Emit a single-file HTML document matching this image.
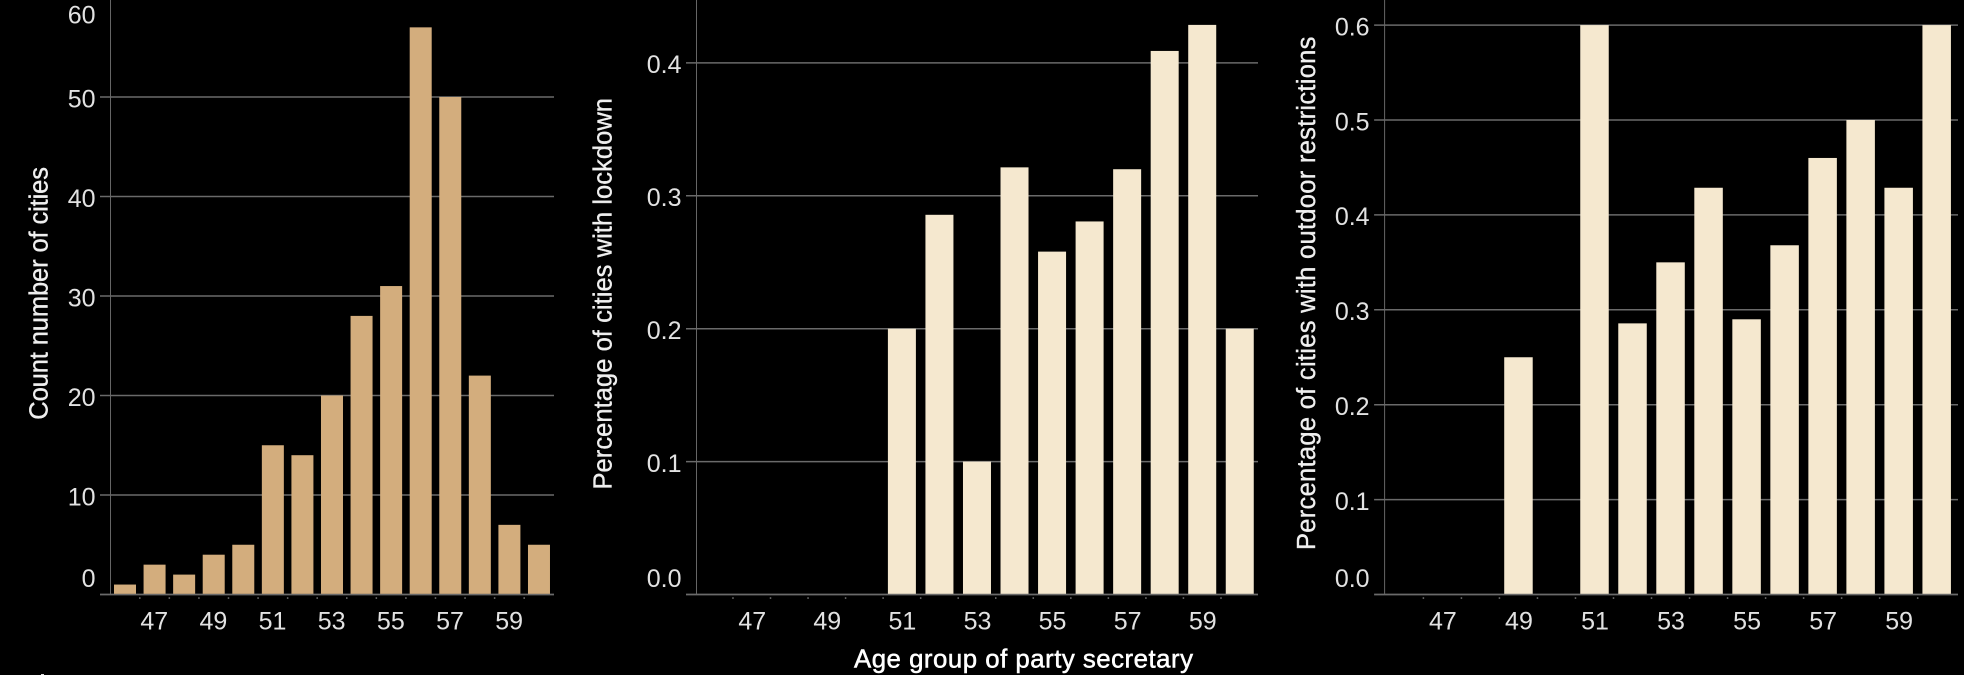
<!DOCTYPE html>
<html>
<head>
<meta charset="utf-8">
<title>Age group of party secretary</title>
<style>
html,body{margin:0;padding:0;background:#000;width:1964px;height:675px;overflow:hidden}
svg{display:block}
text{font-family:"Liberation Sans",sans-serif}
</style>
</head>
<body>
<svg id="chart" xmlns="http://www.w3.org/2000/svg" width="1964" height="675" viewBox="0 0 1964 675">
<rect width="1964" height="675" fill="#000"/>
<text x="854" y="667.3" font-size="25.8" fill="#fff" stroke="#fff" stroke-width="0.5" textLength="339" lengthAdjust="spacing">Age group of party secretary</text>
<rect x="41" y="674" width="3" height="1" fill="#ddd"/>
</svg>
<script>
const ageGroups = [46, 47, 48, 49, 50, 51, 52, 53, 54, 55, 56, 57, 58, 59, 60];
const ageTickLabels = [47, 49, 51, 53, 55, 57, 59];
const cityCounts = [1, 3, 2, 4, 5, 15, 14, 20, 28, 31, 57, 50, 22, 7, 5];
const lockdownShare = [0, 0, 0, 0, 0, 0.2, 0.2857, 0.1, 0.3214, 0.258, 0.2807, 0.32, 0.409, 0.4286, 0.2];
const outdoorShare = [0, 0, 0, 0.25, 0, 0.6, 0.2857, 0.35, 0.4286, 0.29, 0.368, 0.46, 0.5, 0.4286, 0.6];
const countTicks = [0, 10, 20, 30, 40, 50, 60];
const lockdownTicks = [0, 0.1, 0.2, 0.3, 0.4];
const outdoorTicks = [0, 0.1, 0.2, 0.3, 0.4, 0.5, 0.6];

const NS = 'http://www.w3.org/2000/svg';
const svg = document.getElementById('chart');
const BASE_Y = 594.5;

function make(tag, attrs, parent) {
  const el = document.createElementNS(NS, tag);
  for (const k in attrs) el.setAttribute(k, attrs[k]);
  parent.appendChild(el);
  return el;
}

function drawPanel(cfg) {
  const g = make('g', {}, svg);
  
  

  const xScale = function (age) { return cfg.x46 + (age - ageGroups[0]) * cfg.step; };
  const yScale = function (v) { return BASE_Y - v * cfg.pxPerUnit; };

  const axisLine = make('line', { x1: cfg.axisX, x2: cfg.axisX, y1: 0, y2: BASE_Y, stroke: '#666', 'stroke-width': 1 }, g);
  
  

  cfg.ticks.forEach(function (t) {
    const y = yScale(t);
    const grid = make('line', { x1: cfg.axisX - 10.5, x2: cfg.endX, y1: y, y2: y, stroke: '#6a6a6a', 'stroke-width': t === 0 ? 1.7 : 1.5 }, g);
    
    
    const labelY = Math.max(23.3, Math.min(586.8, y + 10.3));
    const label = make('text', { x: cfg.axisX - 15, y: labelY, 'text-anchor': 'end', 'font-size': 25, fill: '#e2e2e2' }, g);
    
    
    label.textContent = cfg.digits ? t.toFixed(cfg.digits) : String(t);
  });

  ageGroups.forEach(function (age, i) {
    const h = cfg.values[i] * cfg.pxPerUnit;
    if (h > 0) {
      const bar = make('rect', { x: xScale(age) - cfg.barW / 2, y: yScale(cfg.values[i]), width: cfg.barW, height: h - 0.7, fill: cfg.color }, g);
      
      
    }
    if (i < ageGroups.length - 1) {
      const tick = make('rect', { x: xScale(age) + cfg.step / 2 - 0.75, y: 597.3, width: 1.5, height: 1.5, fill: '#777' }, g);
      
      
    }
  });

  ageTickLabels.forEach(function (age) {
    const label = make('text', { x: xScale(age) + cfg.labelShift, y: 629.3, 'text-anchor': 'middle', 'font-size': 25, fill: '#e2e2e2' }, g);
    
    
    label.textContent = String(age);
  });

  const title = make('text', {
    x: 0, y: 0, 'font-size': 25.5, fill: '#efefef', stroke: '#efefef', 'stroke-width': 0.35,
    transform: 'translate(' + cfg.titleX + ',' + cfg.titleBottom + ') rotate(-90)',
    textLength: cfg.titleLen, lengthAdjust: 'spacing'
  }, g);
  
  
  title.textContent = cfg.title;
}

drawPanel({
  name: 'count-panel', values: cityCounts, ticks: countTicks, digits: 0,
  axisX: 110.5, endX: 554, x46: 125, step: 29.57, barW: 22, pxPerUnit: 9.95, labelShift: -0.3,
  color: '#D3AD7D', title: 'Count number of cities', titleX: 47.5, titleBottom: 419.7, titleLen: 252.7
});
drawPanel({
  name: 'lockdown-panel', values: lockdownShare, ticks: lockdownTicks, digits: 1,
  axisX: 696.5, endX: 1258, x46: 714.2, step: 37.54, barW: 28, pxPerUnit: 1329, labelShift: 0.5,
  color: '#F5E8CF', title: 'Percentage of cities with lockdown', titleX: 611.4, titleBottom: 489.5, titleLen: 391.5
});
drawPanel({
  name: 'outdoor-panel', values: outdoorShare, ticks: outdoorTicks, digits: 1,
  axisX: 1384.6, endX: 1958, x46: 1404.4, step: 38.02, barW: 28.5, pxPerUnit: 949, labelShift: 0.5,
  color: '#F5E8CF', title: 'Percentage of cities with outdoor restrictions', titleX: 1315, titleBottom: 550, titleLen: 513.4
});
</script>
</body>
</html>
